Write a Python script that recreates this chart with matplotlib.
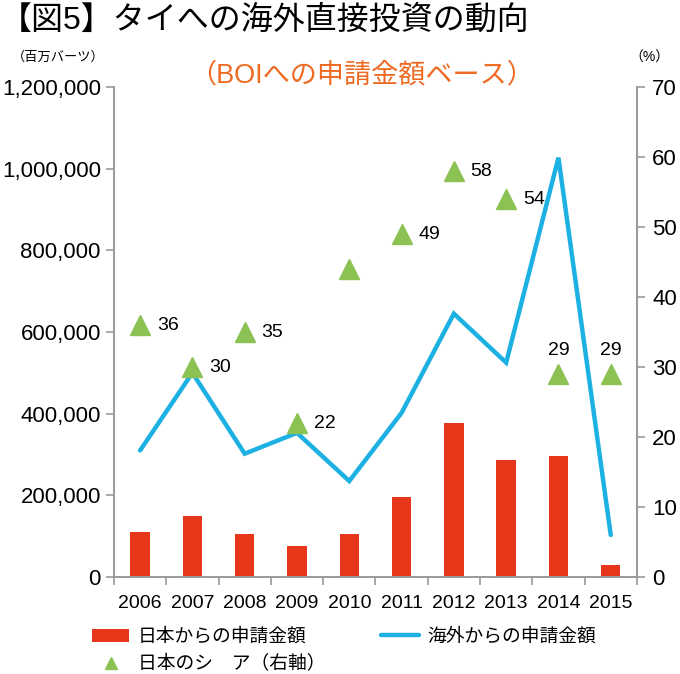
import matplotlib
matplotlib.use('Agg')
import matplotlib.pyplot as plt
from matplotlib.lines import Line2D
from matplotlib.ticker import FuncFormatter
import numpy as np

plt.rcParams['font.family'] = ['Liberation Sans', 'Noto Sans CJK JP']

# data (BOI application amounts, million baht / Japan share %)
years = ['2006', '2007', '2008', '2009', '2010', '2011', '2012', '2013', '2014', '2015']
japan_amount = [110000, 150000, 105000, 75000, 105000, 195000, 376000, 286000, 296000, 30000]
overseas_amount = [310000, 500000, 302000, 353000, 235000, 402000, 645000, 525000, 1027000, 103000]
japan_share = [36, 30, 35, 22, 44, 49, 58, 54, 29, 29]
share_labels = ['36', '30', '35', '22', '', '49', '58', '54', '29', '29']

red = '#E8361A'
blue = '#1DB1E3'
green = '#8CC153'
orange = '#EE6A22'
gray = '#999999'

fig = plt.figure(figsize=(6.8, 6.74), dpi=100)
ax = fig.add_axes([0.1676, 0.1439, 0.769, 0.727])
ax2 = ax.twinx()

x = np.arange(len(years))
bars = ax.bar(x, japan_amount, width=0.37, color=red, zorder=2, label='日本からの申請金額')
line, = ax.plot(x, overseas_amount, color=blue, lw=3.2, solid_joinstyle='miter',
                solid_capstyle='round', zorder=3, label='海外からの申請金額')
ax2.plot(x, japan_share, ls='none', marker='^', ms=15, color=green)

for xi, s, lbl in zip(x, japan_share, share_labels):
    if not lbl:
        continue
    if xi >= 8:
        ax2.annotate(lbl, (xi, s), xytext=(0, 14), textcoords='offset points',
                     ha='center', va='baseline', fontsize=14)
    else:
        ax2.annotate(lbl, (xi, s), xytext=(12, 0), textcoords='offset points',
                     ha='left', va='center', fontsize=14)

ax.set_xlim(-0.5, len(years) - 0.5)
ax.set_ylim(0, 1200000)
ax2.set_ylim(0, 70)

ax.set_yticks(np.arange(0, 1200001, 200000))
ax.yaxis.set_major_formatter(FuncFormatter(lambda v, p: f'{int(v):,}'))
ax2.set_yticks(np.arange(0, 71, 10))

ax.set_xticks(np.arange(-0.5, len(years), 1))
ax.set_xticklabels([])
ax.set_xticks(x, minor=True)
ax.set_xticklabels(years, minor=True)
ax.tick_params(axis='x', which='major', direction='out', length=6, color=gray, width=1.2)
ax.tick_params(axis='x', which='minor', length=0, pad=13, labelsize=14)
ax.tick_params(axis='y', direction='out', length=6, color=gray, width=1.2, labelsize=16, pad=3.5)
ax2.tick_params(axis='y', direction='out', length=6, color=gray, width=1.2, labelsize=16, pad=5)

for a in (ax, ax2):
    a.spines['top'].set_visible(False)
    for s in ('left', 'right', 'bottom'):
        a.spines[s].set_color(gray)
        a.spines[s].set_linewidth(1.2)

fig.text(0.0, 0.992, '【図5】タイへの海外直接投資の動向', fontsize=23, va='top', ha='left')
fig.text(0.018, 0.915, '（百万バーツ）', fontsize=9.5, va='center', ha='left')
fig.text(0.985, 0.914, '（%）', fontsize=10, va='center', ha='right')
fig.text(0.532, 0.888, '（BOIへの申請金額ベース）', fontsize=19.5, color=orange, va='center', ha='center')

tri_handle = Line2D([], [], ls='none', marker='^', ms=9, color=green, label='日本のシ　ア（右軸）')
fig.legend(handles=[bars, tri_handle, line], ncol=2, loc='upper left', bbox_to_anchor=(0.135, 0.068),
           frameon=False, fontsize=13.5, handlelength=2.0, columnspacing=3.0,
           labelspacing=0.5, handletextpad=0.45, borderaxespad=0, borderpad=0)

fig.savefig('out.png', dpi=100)
